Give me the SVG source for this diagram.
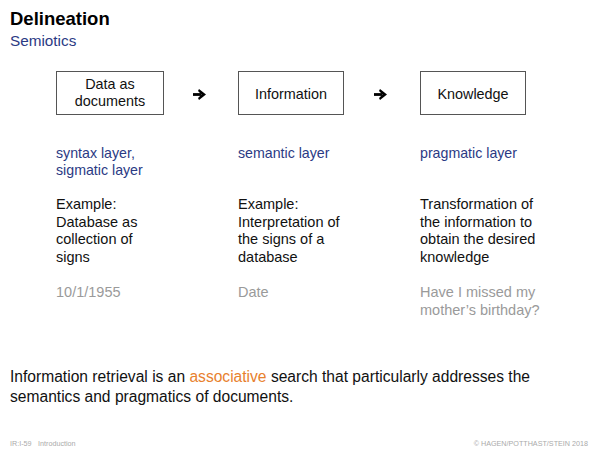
<svg xmlns="http://www.w3.org/2000/svg" width="600" height="450" viewBox="0 0 600 450">
<style>
text{font-family:"Liberation Sans",Arial,sans-serif;}
.t{font-size:18.5px;font-weight:bold;fill:#000;}
.st{font-size:15.3px;fill:#2b3a84;}
.box{fill:#fff;stroke:#555;stroke-width:1;}
.bl{font-size:14.4px;fill:#111;text-anchor:middle;}
.layer{font-size:14.2px;fill:#2b3a84;}
.body{font-size:14.5px;fill:#111;}
.ex{font-size:14.5px;fill:#9a9a9a;}
.bot{font-size:15.6px;fill:#111;}
.or{fill:#e8812e;}
.ft{font-size:7.2px;fill:#aaa;}
.arr{stroke:#000;stroke-width:2.8;fill:none;}
.ah{fill:#000;}
</style>
<rect width="600" height="450" fill="#fff"/>
<text class="t" x="10" y="25">Delineation</text>
<text class="st" x="10" y="46">Semiotics</text>

<g id="node-data">
<rect class="box" x="56.5" y="71.5" width="107" height="43"/>
<text class="bl" x="110" y="89">Data as</text>
<text class="bl" x="110" y="106">documents</text>
</g>
<g id="node-information">
<rect class="box" x="238.5" y="71.5" width="105" height="43"/>
<text class="bl" x="291" y="98.5">Information</text>
</g>
<g id="node-knowledge">
<rect class="box" x="420.5" y="71.5" width="105" height="43"/>
<text class="bl" x="473" y="98.5">Knowledge</text>
</g>

<g id="connectors">
<path class="arr" d="M193 94.5H201"/>
<path class="ah" d="M199 89L206 94.5L199 100L198 98L201.5 94.5L198 91Z"/>
<path class="arr" d="M374 94.5H382"/>
<path class="ah" d="M380 89L387 94.5L380 100L379 98L382.5 94.5L379 91Z"/>
</g>

<g id="col1">
<text class="layer" x="56" y="158">syntax layer,</text>
<text class="layer" x="56" y="175">sigmatic layer</text>
<text class="body" x="56" y="209">Example:</text>
<text class="body" x="56" y="227">Database as</text>
<text class="body" x="56" y="244">collection of</text>
<text class="body" x="56" y="262">signs</text>
<text class="ex" x="56" y="297">10/1/1955</text>
</g>
<g id="col2">
<text class="layer" x="238" y="158">semantic layer</text>
<text class="body" x="238" y="209">Example:</text>
<text class="body" x="238" y="227">Interpretation of</text>
<text class="body" x="238" y="244">the signs of a</text>
<text class="body" x="238" y="262">database</text>
<text class="ex" x="238" y="297">Date</text>
</g>
<g id="col3">
<text class="layer" x="420" y="158">pragmatic layer</text>
<text class="body" x="420" y="209">Transformation of</text>
<text class="body" x="420" y="227">the information to</text>
<text class="body" x="420" y="244">obtain the desired</text>
<text class="body" x="420" y="262">knowledge</text>
<text class="ex" x="420" y="297">Have I missed my</text>
<text class="ex" x="420" y="315">mother’s birthday?</text>
</g>

<text class="bot" x="10" y="382">Information retrieval is an <tspan class="or">associative</tspan> search that particularly addresses the</text>
<text class="bot" x="10" y="402">semantics and pragmatics of documents.</text>

<text class="ft" x="10" y="446">IR:I-59<tspan x="38">Introduction</tspan></text>
<text class="ft" x="588" y="446" text-anchor="end">© HAGEN/POTTHAST/STEIN 2018</text>
</svg>
